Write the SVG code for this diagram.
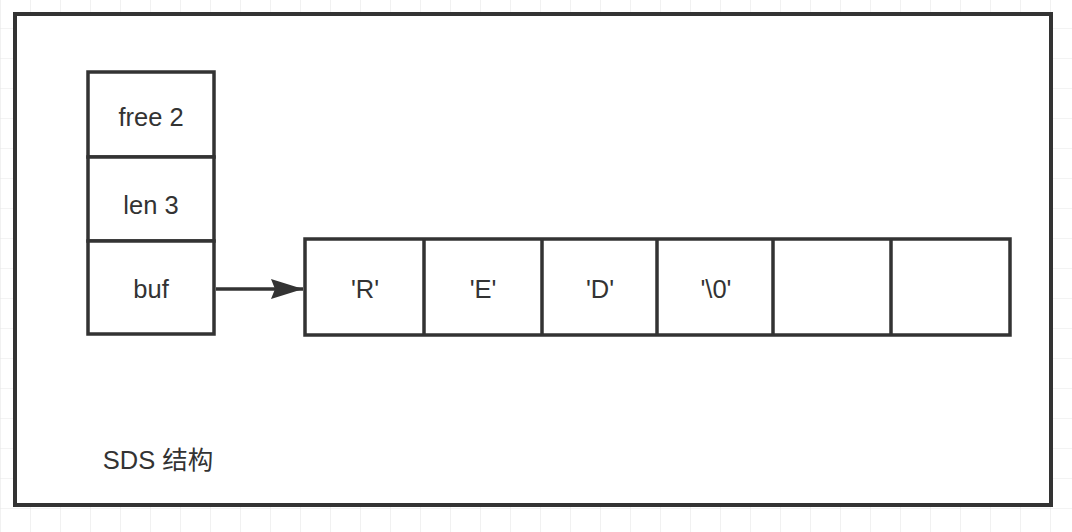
<svg xmlns="http://www.w3.org/2000/svg" width="1072" height="532" viewBox="0 0 1072 532">
<defs>
<pattern id="grid" x="0" y="-2" width="30" height="30" patternUnits="userSpaceOnUse">
<path d="M0 0 H30 M0 0 V30" fill="none" stroke="#e8e8e8" stroke-width="1.2"/>
</pattern>
<marker id="arrow" viewBox="0 0 32 20" refX="32" refY="10" markerWidth="32" markerHeight="20" markerUnits="userSpaceOnUse" orient="auto">
<path d="M0 0 L32 10 L0 20 L4 10 Z" fill="#333"/>
</marker>
</defs>
<style>
.box{fill:#fff;stroke:#333;stroke-width:3.5}
.cell{fill:none;stroke:#333;stroke-width:3.5}
.t{font-family:"Liberation Sans","Noto Sans CJK SC",sans-serif;font-size:25.5px;fill:#333;text-anchor:middle;dominant-baseline:central}
</style>
<rect width="1072" height="532" fill="#fff"/>
<rect width="1072" height="532" fill="url(#grid)"/>
<g id="container">
<rect x="15" y="14" width="1036" height="491" fill="#fff" stroke="#333" stroke-width="4"/>
<text class="t" x="158" y="460">SDS 结构</text>
</g>
<g id="free">
<rect class="box" x="88" y="72" width="126" height="85"/>
<text class="t" x="151" y="117">free 2</text>
</g>
<g id="len">
<rect class="box" x="88" y="157" width="126" height="84"/>
<text class="t" x="151" y="205">len 3</text>
</g>
<g id="buf">
<rect class="box" x="88" y="241" width="126" height="93"/>
<text class="t" x="151" y="289">buf</text>
</g>
<g id="array">
<rect class="box" x="305" y="239" width="705" height="96"/>
<path class="cell" d="M424 239 V335 M542 239 V335 M657 239 V335 M773 239 V335 M891 239 V335"/>
<text class="t" x="365" y="289">'R'</text>
<text class="t" x="483" y="289">'E'</text>
<text class="t" x="600" y="289">'D'</text>
<text class="t" x="716" y="289">'\0'</text>
</g>
<g id="connectors">
<line x1="216" y1="289" x2="303" y2="289" stroke="#333" stroke-width="3.5" marker-end="url(#arrow)"/>
</g>
</svg>
